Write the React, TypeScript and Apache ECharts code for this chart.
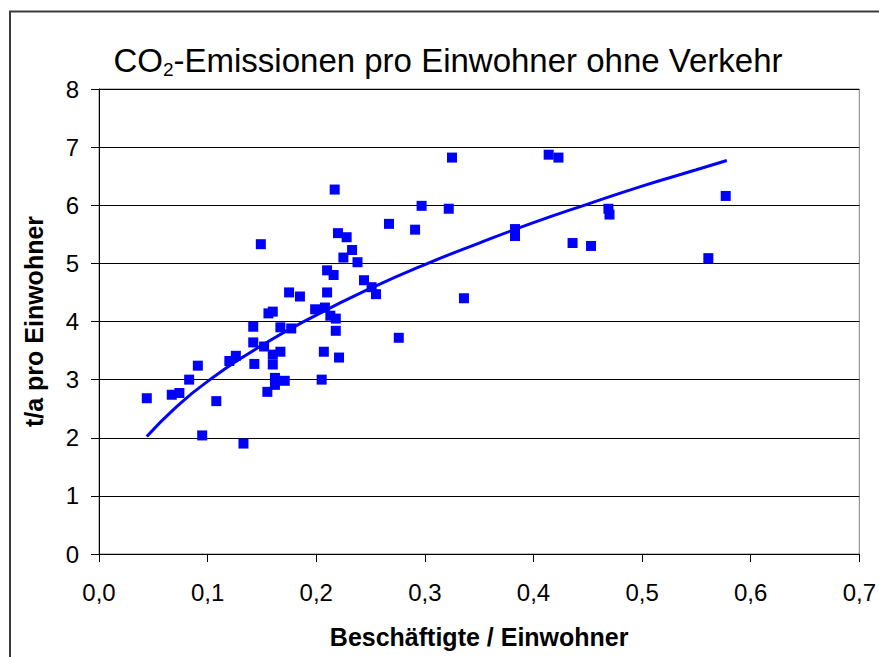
import React, { useEffect, useRef } from "react";
import * as echarts from "echarts";

const xValues = [
  0.044, 0.067, 0.074, 0.083, 0.091, 0.095, 0.108, 0.12, 0.126, 0.133,
  0.142, 0.142, 0.143, 0.149, 0.152, 0.155, 0.156, 0.16, 0.16, 0.16,
  0.162, 0.162, 0.167, 0.167, 0.171, 0.175, 0.177, 0.185, 0.199, 0.205,
  0.207, 0.208, 0.21, 0.21, 0.213, 0.217, 0.216, 0.218, 0.218, 0.22,
  0.221, 0.225, 0.228, 0.233, 0.238, 0.244, 0.251, 0.255, 0.267, 0.276,
  0.291, 0.297, 0.322, 0.325, 0.336, 0.383, 0.383, 0.414, 0.423, 0.436,
  0.453, 0.469, 0.47, 0.473, 0.561, 0.577,
];
const yValues = [
  2.68, 2.74, 2.77, 3.0, 3.24, 2.04, 2.63, 3.32, 3.41, 1.9,
  3.91, 3.64, 3.27, 5.33, 3.57, 2.79, 4.14, 4.17, 3.43, 3.26,
  3.03, 2.91, 3.9, 3.48, 2.98, 4.5, 3.88, 4.43, 4.21, 3.0,
  3.48, 4.24, 4.5, 4.88, 4.1, 6.27, 4.8, 4.05, 3.84, 5.52,
  3.38, 5.1, 5.45, 5.23, 5.02, 4.71, 4.59, 4.47, 5.68, 3.72,
  5.58, 5.99, 5.94, 6.82, 4.4, 5.59, 5.47, 6.87, 6.82, 5.35,
  5.3, 5.94, 5.84, 8.02, 5.09, 6.16,
];
const trendX = [0.044, 0.07, 0.1, 0.15, 0.2, 0.25, 0.3, 0.35, 0.4, 0.45, 0.5, 0.55, 0.578];
const trendY = [2.02, 2.51, 2.97, 3.59, 4.11, 4.57, 4.98, 5.35, 5.7, 6.02, 6.33, 6.61, 6.77];

const titleParts = ["CO", "2", "-Emissionen pro Einwohner ohne Verkehr"];
const xAxisName = "Beschäftigte / Einwohner";
const yAxisName = "t/a pro Einwohner";

const FONT = "'Liberation Sans', Arial, sans-serif";

export default function App() {
  const ref = useRef<HTMLDivElement>(null);
  useEffect(() => {
    if (!ref.current) return;
    const chart = echarts.init(ref.current, null, { renderer: "svg" });
    const points = xValues.map((x, i) => [x, yValues[i]]);
    const trend = trendX.map((x, i) => [x, trendY[i]]);
    chart.setOption({
      animation: false,
      backgroundColor: "#ffffff",
      textStyle: { fontFamily: FONT },
      title: {
        text: `{a|${titleParts[0]}}{b|${titleParts[1]}}{a|${titleParts[2]}}`,
        left: 448,
        top: 41,
        padding: 0,
        textAlign: "center",
        textStyle: {
          fontWeight: "normal",
          rich: {
            a: { fontSize: 33, fontFamily: FONT, fontWeight: "normal", color: "#000", verticalAlign: "middle", lineHeight: 38 },
            b: { fontSize: 19, fontFamily: FONT, fontWeight: "normal", color: "#000", verticalAlign: "bottom", lineHeight: 17 },
          },
        },
      },
      graphic: [
        {
          type: "rect",
          shape: { x: 10, y: 11.5, width: 900, height: 700 },
          style: { fill: "none", stroke: "#3a3a3a", lineWidth: 2 },
          z: 100,
          silent: true,
        },
      ],
      grid: {
        left: 99,
        top: 89,
        right: 18,
        bottom: 103,
        show: true,
        borderColor: "#808080",
        borderWidth: 1,
      },
      xAxis: {
        type: "value",
        min: 0,
        max: 0.7,
        interval: 0.1,
        name: xAxisName,
        nameLocation: "middle",
        nameGap: 70,
        nameTextStyle: { fontSize: 25, fontWeight: "bold", color: "#000", fontFamily: FONT },
        axisLine: { show: true, lineStyle: { color: "#000", width: 1 } },
        axisTick: { show: true, length: 8, inside: false, lineStyle: { color: "#000" } },
        axisLabel: {
          fontSize: 24,
          color: "#000",
          margin: 26,
          fontFamily: FONT,
          formatter: (v: number) => v.toFixed(1).replace(".", ","),
        },
        splitLine: { show: false },
      },
      yAxis: {
        type: "value",
        min: 0,
        max: 8,
        interval: 1,
        name: yAxisName,
        nameLocation: "middle",
        nameGap: 53,
        nameTextStyle: { fontSize: 25, fontWeight: "bold", color: "#000", fontFamily: FONT },
        axisLine: { show: true, lineStyle: { color: "#000", width: 1 } },
        axisTick: { show: true, length: 8, inside: false, lineStyle: { color: "#000" } },
        axisLabel: { fontSize: 24, color: "#000", margin: 20, fontFamily: FONT },
        splitLine: { show: true, lineStyle: { color: "#000", width: 1 } },
      },
      series: [
        {
          type: "scatter",
          data: points,
          symbol: "rect",
          symbolSize: 10,
          itemStyle: { color: "#0000ff", opacity: 1 },
          z: 2,
        },
        {
          type: "line",
          data: trend,
          smooth: true,
          showSymbol: false,
          symbol: "none",
          lineStyle: { color: "#0000ff", width: 3 },
          z: 3,
        },
      ],
    });
    return () => chart.dispose();
  }, []);
  return <div ref={ref} style={{ width: 879, height: 657, position: "absolute", left: 0, top: 0 }} />;
}
